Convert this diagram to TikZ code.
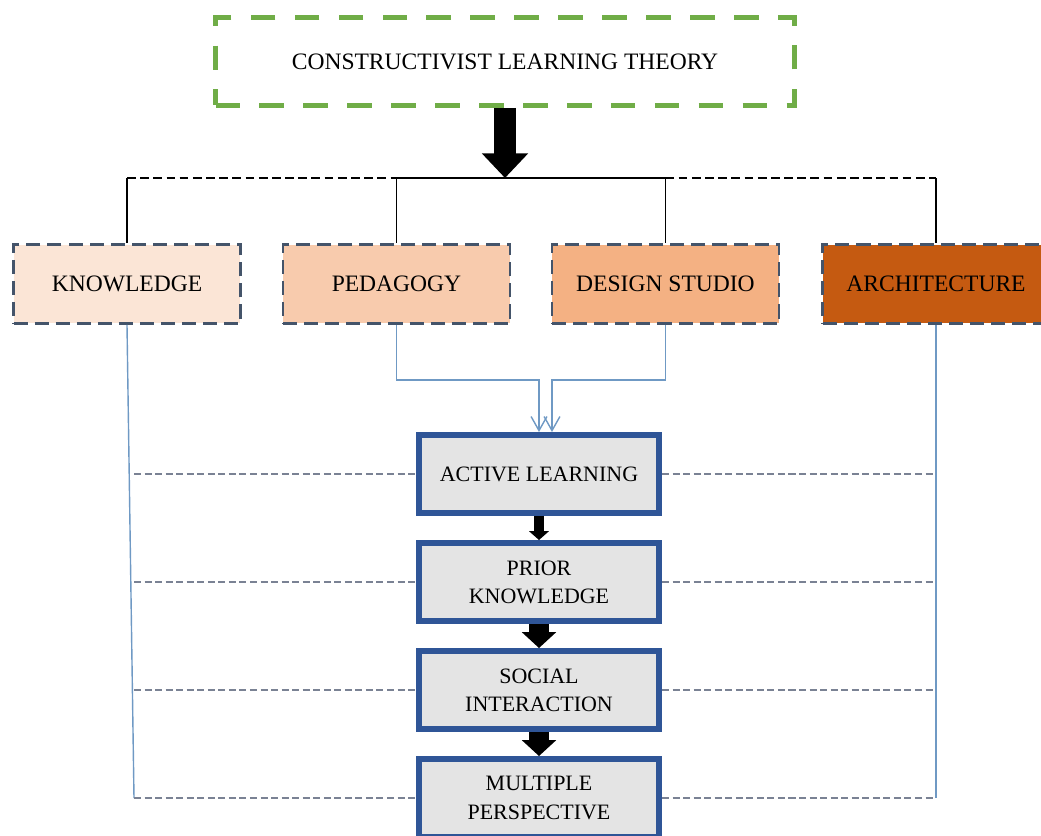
\documentclass[tikz,border=0pt]{standalone}
\usepackage{fontspec}
\setmainfont{Liberation Serif}
\usepackage{xcolor}
\usetikzlibrary{arrows.meta, positioning, calc}

\definecolor{theorygreen}{HTML}{70AD47}
\definecolor{topicborder}{HTML}{44546A}
\definecolor{knowfill}{HTML}{FBE5D6}
\definecolor{pedfill}{HTML}{F8CBAD}
\definecolor{studiofill}{HTML}{F4B183}
\definecolor{archfill}{HTML}{C55A11}
\definecolor{stageblue}{HTML}{2F5597}
\definecolor{stagegray}{HTML}{E4E4E4}
\definecolor{linkblue}{HTML}{6F99C4}
\definecolor{guidegray}{HTML}{7A8294}

\begin{document}
\begin{tikzpicture}[
		x=0.02cm, y=-0.02cm,
		font=\fontsize{12.5}{16}\selectfont,
		theory/.style={draw=theorygreen, line width=2.8pt, dash pattern=on 14pt off 11pt,
			minimum width=11.58cm, minimum height=1.76cm},
		topic/.style={draw=topicborder, line width=1.6pt, dash pattern=on 8pt off 4pt,
			font=\fontsize{13.4}{16}\selectfont, minimum width=4.54cm, minimum height=1.58cm},
		stage/.style={draw=stageblue, fill=stagegray, line width=3.4pt, align=center,
			minimum width=4.8cm, minimum height=1.56cm},
		bigarrow/.style={line width=12.5pt, -{Triangle[width=25.5pt, length=14pt]}},
		steparrow/.style={line width=11pt, -{Triangle[width=19pt, length=9pt]}},
		smallarrow/.style={line width=5.7pt, -{Triangle[width=11pt, length=5pt]}},
		bus/.style={line width=0.7pt},
		busdash/.style={bus, dash pattern=on 5pt off 2.5pt},
		link/.style={draw=linkblue, line width=0.8pt},
		feed/.style={link, -{Straight Barb[length=8pt, width=9pt]}},
		guide/.style={draw=guidegray, line width=0.7pt, dash pattern=on 4pt off 2pt}
		]
		
		\useasboundingbox (0,0) rectangle (1041,835);
		
		% Theory
		\node[theory, font=\fontsize{13.4}{16}\selectfont] (theory) at (505,61.5)
		{CONSTRUCTIVIST LEARNING THEORY};
		\coordinate (hub) at (505,178);
		
		% Topics
		\node[topic, fill=knowfill] (know) at (127,284) {KNOWLEDGE};
		\node[topic, fill=pedfill] (ped) at (396.5,284) {PEDAGOGY};
		\node[topic, fill=studiofill] (studio) at (665.5,284) {DESIGN STUDIO};
		\node[topic, fill=archfill] (arch) at (936,284) {ARCHITECTURE};
		
		% Stages
		\node[stage] (active) at (539,474) {ACTIVE LEARNING};
		\node[stage] (prior) at (539,582) {PRIOR\\KNOWLEDGE};
		\node[stage] (social) at (539,690) {SOCIAL\\INTERACTION};
		\node[stage] (multi) at (539,798) {MULTIPLE\\PERSPECTIVE};
		
		% Theory to bus
		\draw[bigarrow] (theory.south) -- (hub);
		\draw[busdash] (know.north |- hub) -- (ped.north |- hub);
		\draw[bus] (ped.north |- hub) -- (studio.north |- hub);
		\draw[busdash] (studio.north |- hub) -- (arch.north |- hub);
		\foreach \t in {know, ped, studio, arch}
		\draw[bus] (\t.north |- hub) -- (\t.north);
		
		% Pedagogy and studio feed active learning
		\draw[feed] (ped.south) -- ++(0,55) -| ([xshift=0cm]active.north);
		\draw[feed] (studio.south) -- ++(0,55) -| ([xshift=0.26cm]active.north);
		
		% Stage sequence
		\draw[smallarrow] (active.south) -- (prior.north);
		\draw[steparrow] (prior.south) -- (social.north);
		\draw[steparrow] (social.south) -- (multi.north);
		
		% Side rails
		\coordinate (lrail) at (134,798);
		\draw[link] (know.south) -- (lrail);
		\draw[link] (arch.south) -- (arch.south |- multi.east);
		\foreach \s in {active, prior, social, multi} {
			\draw[guide] (\s.west -| lrail) -- (\s.west);
			\draw[guide] (\s.east) -- (\s.east -| arch.south);
		}
		
	\end{tikzpicture}
\end{document}
